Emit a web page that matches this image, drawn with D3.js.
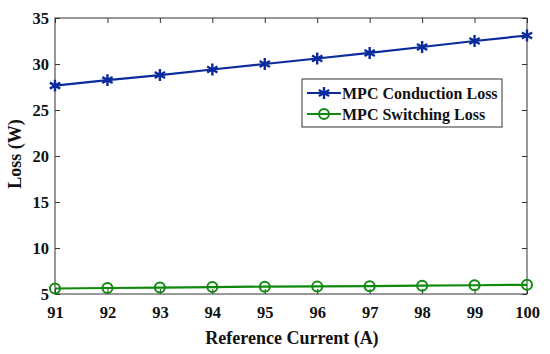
<!DOCTYPE html>
<html lang="en">
<head>
  <meta charset="UTF-8">
  <title>MPC Loss vs Reference Current</title>
  <script src="https://d3js.org/d3.v7.min.js"></script>
  <style>
    body { margin: 0; background: #fff; }
    text { font-family: "Liberation Serif", "Times New Roman", serif; font-weight: bold; fill: #111; }
  </style>
</head>
<body>
  <svg width="550" height="354"></svg>
  <script>
    const current = [91, 92, 93, 94, 95, 96, 97, 98, 99, 100];
    const conduction = [27.65, 28.25, 28.8, 29.4, 30.0, 30.6, 31.2, 31.85, 32.5, 33.1];
    const switching = [5.6, 5.65, 5.7, 5.75, 5.8, 5.82, 5.85, 5.9, 5.95, 6.0];
    const yTicks = [5, 10, 15, 20, 25, 30, 35];
    const seriesNames = ["MPC Conduction Loss", "MPC Switching Loss"];

    const svg = d3.select("svg"),
          margin = {top: 18, right: 23, bottom: 60, left: 55},
          width = +svg.attr("width") - margin.left - margin.right,
          height = +svg.attr("height") - margin.top - margin.bottom,
          g = svg.append("g").attr("transform", `translate(${margin.left},${margin.top})`);

    const x = d3.scaleLinear().domain([91, 100]).range([0, width]);
    const y = d3.scaleLinear().domain([5, 35]).range([height, 0]);

    const blue = "#0b2a9c", green = "#0f8a0f";

    // box with inward ticks on all four sides
    g.append("rect").attr("width", width).attr("height", height)
      .attr("fill", "none").attr("stroke", "#333").attr("stroke-width", 1);

    const tk = 5;
    g.append("g").attr("transform", `translate(0,${height})`)
      .call(d3.axisBottom(x).tickValues(current).tickSizeInner(-tk).tickSizeOuter(0).tickPadding(12));
    g.append("g").call(d3.axisTop(x).tickValues(current).tickSizeInner(-tk).tickSizeOuter(0).tickFormat(""));
    g.append("g")
      .call(d3.axisLeft(y).tickValues(yTicks).tickSizeInner(-tk).tickSizeOuter(0).tickPadding(6));
    g.append("g").attr("transform", `translate(${width},0)`)
      .call(d3.axisRight(y).tickValues(yTicks).tickSizeInner(-tk).tickSizeOuter(0).tickFormat(""));
    g.selectAll(".domain").remove();
    g.selectAll(".tick line").attr("stroke", "#333");
    g.selectAll(".tick text").style("font-size", "16.5px").attr("fill", "#111");

    // axis labels
    g.append("text").attr("x", width / 2 + 1).attr("y", height + 50)
      .attr("text-anchor", "middle").style("font-size", "18px").text("Reference Current (A)");
    g.append("text").attr("transform", `translate(${-34},${height / 2 - 2}) rotate(-90)`)
      .attr("text-anchor", "middle").style("font-size", "18px").text("Loss (W)");

    const line = d3.line().x((d, i) => x(current[i])).y(d => y(d));

    g.append("path").datum(conduction).attr("fill", "none").attr("stroke", blue)
      .attr("stroke-width", 2.2).attr("d", line);
    g.append("path").datum(switching).attr("fill", "none").attr("stroke", green)
      .attr("stroke-width", 2.2).attr("d", line);

    const star = d3.symbol().type(d3.symbolAsterisk).size(100);
    g.selectAll(".star").data(conduction).enter().append("path")
      .attr("class", "star")
      .attr("transform", (d, i) => `translate(${x(current[i])},${y(d)})`)
      .attr("d", star()).attr("fill", "none").attr("stroke", blue).attr("stroke-width", 2.4);

    g.selectAll(".ring").data(switching).enter().append("circle")
      .attr("class", "ring")
      .attr("cx", (d, i) => x(current[i])).attr("cy", d => y(d)).attr("r", 5)
      .attr("fill", "none").attr("stroke", green).attr("stroke-width", 2);

    // legend
    const lg = svg.append("g").attr("transform", "translate(302,79)");
    lg.append("rect").attr("width", 200).attr("height", 48)
      .attr("fill", "#fff").attr("stroke", "#333").attr("stroke-width", 1);
    const rows = [{c: blue, m: "star"}, {c: green, m: "ring"}];
    rows.forEach((r, i) => {
      const cy = 14 + i * 21;
      lg.append("line").attr("x1", 5).attr("x2", 39).attr("y1", cy).attr("y2", cy)
        .attr("stroke", r.c).attr("stroke-width", 2.2);
      if (r.m === "star") {
        lg.append("path").attr("transform", `translate(22,${cy})`).attr("d", star())
          .attr("fill", "none").attr("stroke", r.c).attr("stroke-width", 2.4);
      } else {
        lg.append("circle").attr("cx", 22).attr("cy", cy).attr("r", 5)
          .attr("fill", "none").attr("stroke", r.c).attr("stroke-width", 2);
      }
      lg.append("text").attr("x", 40).attr("y", cy + 5.5).style("font-size", "16px").text(seriesNames[i]);
    });
  </script>
</body>
</html>
